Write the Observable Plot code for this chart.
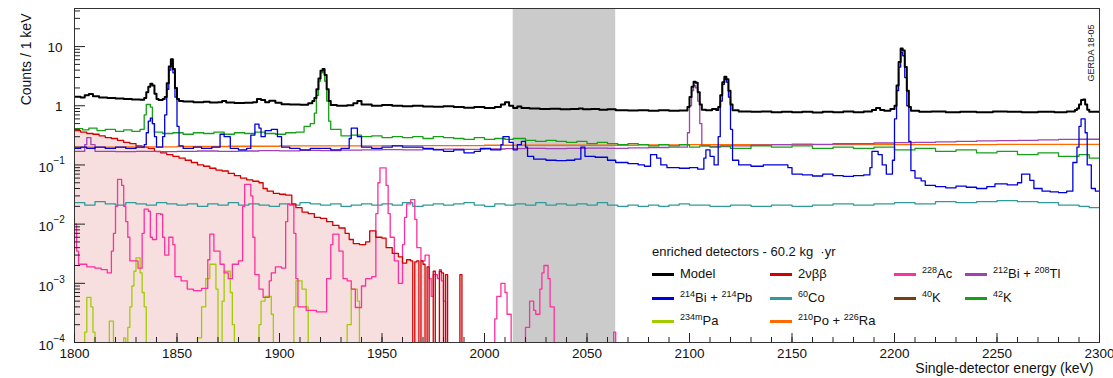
<!DOCTYPE html>
<html>
<head>
<meta charset="utf-8">
<script src="https://cdn.jsdelivr.net/npm/d3@7"></script>
<script src="https://cdn.jsdelivr.net/npm/@observablehq/plot@0.6"></script>
<style>
  body { margin: 0; background: #fff; font-family: "Liberation Sans", Arial, sans-serif; }
  #wrap { position: relative; width: 1113px; height: 378px; overflow: hidden; }
  #legend { position: absolute; left: 0; top: 0; font-size: 13px; color: #111; }
  #legend .title { position: absolute; white-space: nowrap; line-height: 14px; }
  #legend .item { position: absolute; white-space: nowrap; display: flex; align-items: center; line-height: 14px; }
  #legend .swatch { display: inline-block; width: 22px; height: 3px; margin-right: 6px; }
  #legend sup { font-size: 9px; vertical-align: 5px; line-height: 0; }
</style>
</head>
<body>
<div id="wrap"></div>
<script>
// Single-detector energy spectrum, 1800-2300 keV, with background model components.
// Each series: [bin low edge (keV), counts / keV] drawn as a step histogram.

const energyRange = [1800, 2300];
const countsRange = [1e-4, 44];
const blindWindow = [2014, 2064];

const model = [[1800,1.42],[1803,1.38],[1805,1.5],[1807,1.58],[1809,1.45],[1812,1.38],[1816,1.35],[1820,1.33],[1824,1.3],[1828,1.27],[1832,1.26],[1834,1.35],[1835,1.7],[1836,2.1],[1837,2.35],[1838,2.2],[1839,1.6],[1840,1.3],[1841,1.25],[1843,1.3],[1844,1.4],[1845,2.4],[1846,4.6],[1847,6.1],[1848,4.2],[1849,2.0],[1850,1.3],[1851,1.2],[1853,1.18],[1858,1.15],[1863,1.17],[1866,1.13],[1870,1.15],[1872,1.2],[1874,1.13],[1878,1.11],[1883,1.12],[1887,1.15],[1889,1.3],[1891,1.25],[1893,1.15],[1895,1.22],[1898,1.12],[1901,1.06],[1905,1.05],[1910,1.04],[1914,1.1],[1916,1.2],[1917,1.35],[1918,1.9],[1919,2.9],[1920,3.9],[1921,4.2],[1922,3.3],[1923,1.9],[1924,1.2],[1925,1.03],[1928,1.0],[1933,1.02],[1936,1.1],[1938,1.2],[1940,1.05],[1945,1.0],[1950,1.03],[1955,1.0],[1960,0.98],[1965,1.0],[1970,0.97],[1975,0.96],[1980,0.98],[1985,0.95],[1990,0.93],[1995,0.95],[2000,0.92],[2005,0.95],[2008,1.05],[2010,1.15],[2012,1.0],[2014,0.92],[2016,0.97],[2018,0.92],[2022,0.9],[2027,0.88],[2032,0.89],[2037,0.87],[2042,0.88],[2046,0.9],[2048,0.87],[2052,0.88],[2056,0.86],[2060,0.87],[2064,0.84],[2070,0.83],[2075,0.84],[2080,0.82],[2085,0.84],[2090,0.82],[2095,0.83],[2099,0.95],[2100,1.4],[2101,2.1],[2102,2.55],[2103,2.45],[2104,1.7],[2105,1.05],[2106,0.86],[2108,0.84],[2111,0.88],[2113,0.85],[2114,0.95],[2115,1.5],[2116,2.5],[2117,3.1],[2118,2.8],[2119,1.8],[2120,1.05],[2121,0.84],[2124,0.8],[2130,0.79],[2135,0.8],[2140,0.78],[2145,0.79],[2150,0.78],[2155,0.79],[2160,0.77],[2165,0.79],[2170,0.78],[2175,0.8],[2180,0.78],[2185,0.8],[2189,0.85],[2191,0.92],[2193,0.85],[2195,0.82],[2198,0.88],[2200,1.0],[2201,2.2],[2202,5.5],[2203,9.3],[2204,8.6],[2205,4.5],[2206,1.8],[2207,0.95],[2208,0.82],[2212,0.79],[2218,0.8],[2225,0.78],[2232,0.79],[2240,0.78],[2248,0.8],[2255,0.79],[2262,0.78],[2270,0.79],[2278,0.78],[2284,0.8],[2288,0.85],[2289,0.9],[2290,1.05],[2291,1.25],[2292,1.28],[2293,1.05],[2294,0.86],[2295,0.79],[2300,0.78]];

const bi214 = [[1800,0.19],[1803,0.2],[1806,0.19],[1810,0.2],[1815,0.19],[1820,0.2],[1825,0.19],[1830,0.2],[1834,0.22],[1835,0.35],[1836,0.55],[1837,0.62],[1838,0.5],[1839,0.3],[1840,0.2],[1843,0.3],[1844,0.7],[1845,1.9],[1846,4.0],[1847,5.2],[1848,3.6],[1849,1.4],[1850,0.45],[1851,0.21],[1853,0.19],[1858,0.2],[1862,0.19],[1867,0.2],[1871,0.33],[1873,0.3],[1876,0.19],[1880,0.18],[1884,0.19],[1886,0.32],[1888,0.49],[1890,0.42],[1891,0.3],[1893,0.38],[1896,0.4],[1899,0.3],[1901,0.2],[1905,0.19],[1910,0.18],[1915,0.19],[1920,0.19],[1925,0.18],[1930,0.19],[1934,0.28],[1935,0.42],[1938,0.3],[1940,0.2],[1945,0.19],[1950,0.2],[1955,0.21],[1960,0.2],[1965,0.2],[1970,0.19],[1975,0.18],[1980,0.17],[1985,0.18],[1990,0.16],[1995,0.17],[1998,0.19],[2003,0.18],[2008,0.22],[2009,0.3],[2012,0.24],[2014,0.18],[2016,0.22],[2018,0.25],[2020,0.2],[2021,0.14],[2024,0.125],[2030,0.12],[2035,0.118],[2040,0.12],[2044,0.125],[2047,0.2],[2049,0.14],[2054,0.135],[2060,0.12],[2064,0.11],[2070,0.105],[2075,0.1],[2078,0.095],[2081,0.15],[2084,0.13],[2086,0.1],[2089,0.09],[2095,0.088],[2100,0.09],[2104,0.085],[2107,0.13],[2108,0.18],[2110,0.14],[2112,0.1],[2114,0.3],[2115,1.2],[2116,2.3],[2117,2.8],[2118,2.5],[2119,1.4],[2120,0.4],[2121,0.12],[2124,0.1],[2130,0.095],[2136,0.1],[2142,0.1],[2148,0.09],[2150,0.07],[2155,0.068],[2160,0.065],[2165,0.07],[2170,0.066],[2175,0.064],[2180,0.066],[2185,0.068],[2188,0.09],[2189,0.17],[2192,0.15],[2194,0.1],[2196,0.07],[2199,0.12],[2200,0.6],[2201,1.8],[2202,4.5],[2203,8.0],[2204,7.0],[2205,3.0],[2206,1.0],[2207,0.25],[2208,0.08],[2210,0.06],[2213,0.054],[2215,0.045],[2220,0.043],[2225,0.041],[2230,0.044],[2235,0.042],[2240,0.04],[2245,0.043],[2249,0.048],[2255,0.046],[2260,0.05],[2262,0.07],[2266,0.055],[2268,0.04],[2272,0.036],[2276,0.035],[2280,0.034],[2284,0.036],[2287,0.11],[2289,0.2],[2290,0.45],[2291,0.6],[2293,0.35],[2294,0.1],[2296,0.04],[2298,0.036],[2300,0.036]];

const k42 = [[1800,0.41],[1804,0.39],[1807,0.42],[1811,0.38],[1815,0.4],[1820,0.37],[1824,0.39],[1828,0.37],[1832,0.4],[1834,0.7],[1835,1.05],[1837,0.95],[1838,0.5],[1839,0.36],[1843,0.34],[1848,0.35],[1853,0.33],[1858,0.35],[1863,0.34],[1868,0.36],[1873,0.33],[1878,0.35],[1883,0.34],[1888,0.36],[1893,0.34],[1898,0.33],[1903,0.35],[1908,0.36],[1912,0.45],[1915,0.5],[1917,0.75],[1918,1.5],[1919,2.6],[1920,3.6],[1921,3.7],[1922,2.6],[1923,1.2],[1924,0.55],[1925,0.4],[1930,0.31],[1935,0.32],[1940,0.3],[1945,0.31],[1950,0.29],[1955,0.3],[1960,0.29],[1965,0.3],[1970,0.28],[1975,0.3],[1980,0.29],[1985,0.28],[1990,0.27],[1995,0.29],[2000,0.27],[2005,0.28],[2010,0.27],[2014,0.28],[2020,0.26],[2025,0.25],[2030,0.26],[2035,0.25],[2040,0.24],[2045,0.25],[2050,0.23],[2055,0.24],[2060,0.23],[2065,0.22],[2070,0.23],[2075,0.22],[2080,0.21],[2085,0.22],[2090,0.21],[2095,0.22],[2100,0.2],[2105,0.21],[2110,0.2],[2115,0.21],[2120,0.19],[2130,0.21],[2140,0.2],[2150,0.21],[2160,0.19],[2170,0.2],[2180,0.19],[2190,0.2],[2200,0.18],[2210,0.19],[2220,0.17],[2230,0.18],[2240,0.16],[2250,0.17],[2260,0.15],[2270,0.16],[2280,0.14],[2290,0.15],[2295,0.13],[2300,0.13]];

const po210 = [[1800,0.2],[1825,0.202],[1850,0.205],[1875,0.207],[1900,0.21],[1925,0.21],[1950,0.212],[1975,0.212],[2000,0.215],[2025,0.215],[2050,0.215],[2075,0.218],[2100,0.22],[2125,0.22],[2150,0.22],[2175,0.22],[2200,0.22],[2225,0.221],[2250,0.222],[2275,0.222],[2300,0.222]];

const bi212 = [[1800,0.17],[1805,0.22],[1806,0.29],[1808,0.22],[1810,0.17],[1820,0.168],[1830,0.17],[1840,0.168],[1850,0.17],[1860,0.172],[1870,0.17],[1880,0.172],[1890,0.175],[1900,0.173],[1910,0.176],[1920,0.175],[1930,0.178],[1940,0.18],[1950,0.182],[1960,0.18],[1970,0.184],[1980,0.185],[1990,0.183],[2000,0.186],[2010,0.188],[2020,0.19],[2030,0.188],[2040,0.19],[2050,0.192],[2060,0.19],[2070,0.195],[2080,0.197],[2090,0.2],[2099,0.35],[2100,1.0],[2101,1.8],[2102,2.2],[2103,2.0],[2104,1.2],[2105,0.5],[2106,0.21],[2110,0.205],[2120,0.21],[2130,0.215],[2140,0.22],[2150,0.225],[2160,0.222],[2170,0.228],[2180,0.23],[2190,0.235],[2200,0.238],[2210,0.24],[2220,0.245],[2230,0.25],[2240,0.255],[2250,0.258],[2260,0.26],[2270,0.265],[2280,0.27],[2290,0.272],[2300,0.275]];

const co60 = [[1800,0.023],[1805,0.021],[1810,0.024],[1815,0.022],[1820,0.021],[1825,0.023],[1830,0.022],[1835,0.021],[1840,0.023],[1845,0.022],[1850,0.021],[1855,0.022],[1860,0.02],[1865,0.022],[1870,0.021],[1875,0.023],[1880,0.021],[1885,0.022],[1890,0.021],[1895,0.02],[1900,0.022],[1905,0.021],[1910,0.023],[1915,0.022],[1920,0.021],[1925,0.022],[1930,0.02],[1935,0.021],[1940,0.022],[1945,0.021],[1950,0.022],[1955,0.021],[1960,0.023],[1965,0.02],[1970,0.021],[1975,0.022],[1980,0.021],[1985,0.022],[1990,0.023],[1995,0.021],[2000,0.02],[2005,0.022],[2010,0.021],[2015,0.022],[2020,0.021],[2025,0.023],[2030,0.021],[2035,0.022],[2040,0.021],[2045,0.022],[2050,0.021],[2055,0.023],[2060,0.021],[2065,0.02],[2070,0.021],[2075,0.02],[2080,0.021],[2085,0.02],[2090,0.021],[2095,0.022],[2100,0.021],[2110,0.02],[2120,0.021],[2130,0.02],[2140,0.021],[2150,0.02],[2160,0.021],[2170,0.022],[2180,0.021],[2190,0.022],[2200,0.023],[2210,0.022],[2220,0.024],[2230,0.023],[2240,0.024],[2250,0.025],[2260,0.024],[2270,0.023],[2280,0.021],[2290,0.02],[2295,0.019],[2300,0.019]];

const nu2bb = [[1800,0.38],[1803,0.36],[1806,0.34],[1809,0.33],[1812,0.31],[1815,0.29],[1818,0.28],[1821,0.26],[1824,0.24],[1827,0.23],[1830,0.21],[1833,0.2],[1836,0.19],[1839,0.17],[1842,0.16],[1845,0.15],[1848,0.14],[1851,0.13],[1854,0.12],[1857,0.11],[1860,0.1],[1863,0.095],[1866,0.088],[1869,0.082],[1872,0.079],[1875,0.072],[1878,0.066],[1881,0.06],[1884,0.056],[1887,0.053],[1890,0.05],[1892,0.04],[1894,0.036],[1897,0.033],[1900,0.032],[1903,0.031],[1906,0.022],[1908,0.019],[1911,0.016],[1914,0.015],[1917,0.013],[1920,0.0125],[1923,0.011],[1926,0.0095],[1929,0.0086],[1932,0.007],[1934,0.0055],[1936,0.0047],[1939,0.0045],[1942,0.005],[1944,0.0077],[1947,0.006],[1950,0.0058],[1952,0.004],[1955,0.0032],[1958,0.0028],[1960,0.0022],[1962,0.0025],[1964,0.0024],[1965,0],[1966,0.0023],[1967,0.0024],[1968,0],[1969,0.0024],[1970,0.0021],[1971,0],[1972,0.0019],[1973,0],[1975,0.0016],[1976,0],[1978,0.0016],[1979,0.0015],[1980,0],[1981,0.0014],[1982,0],[1988,0.0014],[1989,0],[2300,0]];

const ac228 = [[1800,0.01],[1801,0.0035],[1802,0.0021],[1806,0.0019],[1810,0.0018],[1813,0.0017],[1816,0.0015],[1818,0.0035],[1819,0.007],[1820,0.02],[1821,0.057],[1823,0.045],[1824,0.02],[1825,0.011],[1826,0.006],[1827,0.0024],[1831,0.0018],[1833,0.007],[1834,0.018],[1836,0.0165],[1837,0.006],[1838,0.0055],[1840,0.015],[1842,0.0147],[1843,0.006],[1844,0.003],[1846,0.006],[1848,0.0045],[1849,0.0013],[1852,0.0011],[1855,0.0008],[1858,0.00075],[1862,0.00082],[1865,0.0025],[1866,0.0068],[1868,0.0035],[1871,0.0021],[1873,0.0015],[1875,0.0012],[1877,0.0021],[1880,0.0024],[1882,0.02],[1883,0.047],[1886,0.03],[1887,0.006],[1888,0.0014],[1890,0.0008],[1892,0.00058],[1895,0.0011],[1896,0.0015],[1898,0.0019],[1901,0.0018],[1903,0.011],[1904,0.0216],[1907,0.007],[1908,0.0012],[1909,0.0004],[1913,0.00035],[1918,0.00033],[1923,0.0012],[1925,0.0045],[1926,0.0068],[1929,0.0035],[1931,0.0012],[1933,0.0011],[1935,0.0008],[1937,0.00039],[1940,0.0009],[1942,0.0012],[1945,0.0013],[1947,0.015],[1948,0.05],[1949,0.089],[1952,0.045],[1953,0.015],[1954,0.006],[1956,0.0024],[1958,0.001],[1960,0.0045],[1961,0.013],[1962,0.022],[1964,0.026],[1966,0.012],[1967,0.004],[1969,0.0024],[1971,0.003],[1973,0.0012],[1974,0.0006],[1975,0.0014],[1977,0.0012],[1978,0.0017],[1979,0.0011],[1980,0.0005],[1981,0],[2005,0.00025],[2006,0.0006],[2008,0.001],[2010,0.0007],[2011,0.0003],[2013,0],[2020,0.00018],[2022,0.0005],[2024,0.00035],[2025,0.0003],[2027,0.0008],[2028,0.0015],[2029,0.002],[2031,0.0012],[2032,0.0004],[2034,0],[2063,0.00015],[2064,0],[2300,0]];

const pa234m = [[1800,0],[1805,0.00015],[1806,0.00058],[1808,0.0004],[1809,0.00015],[1810,0],[1817,0.00023],[1819,0],[1824,0.00012],[1825,0],[1826,0.00018],[1827,0.0004],[1828,0.0009],[1829,0.0016],[1830,0.0027],[1832,0.0015],[1833,0.0007],[1834,0.0004],[1835,0],[1860,0.00012],[1862,0.0004],[1864,0.0012],[1866,0.0021],[1869,0.0008],[1870,0],[1872,0.0005],[1873,0.0016],[1876,0.0007],[1877,0.0002],[1878,0],[1890,0.0002],[1891,0.0005],[1893,0.0006],[1896,0.0003],[1897,0],[1907,0.0004],[1908,0.0011],[1911,0.0008],[1913,0.0004],[1914,0],[1933,0.0002],[1935,0.0008],[1938,0.0005],[1939,0],[2300,0]];

// Axis ticks
const yMajor = [1e-4, 1e-3, 1e-2, 1e-1, 1, 10];
const yBase = ["10", "10", "10", "10", "1", "10"];
const yExp = ["\u22124", "\u22123", "\u22122", "\u22121", "", ""];
const xMajor = d3.range(1800, 2301, 50);
const xMinor = d3.range(1800, 2301, 10);
const yMinor = [];
for (let p = -4; p <= 1; p++) for (let m = 2; m <= 9; m++) if (m * 10 ** p <= countsRange[1]) yMinor.push(m * 10 ** p);

// Legend
const legendTitle = "enriched detectors - 60.2 kg \u00a0\u00b7yr";
const legendNames = [
  "Model", "2\u03bd\u03b2\u03b2", "<sup>228</sup>Ac", "<sup>212</sup>Bi + <sup>208</sup>Tl",
  "<sup>214</sup>Bi + <sup>214</sup>Pb", "<sup>60</sup>Co", "<sup>40</sup>K", "<sup>42</sup>K",
  "<sup>234m</sup>Pa", "<sup>210</sup>Po + <sup>226</sup>Ra"
];
const legendKeys = ["model", "nu2bb", "ac228", "bi212", "bi214", "co60", "k40", "k42", "pa234m", "po210"];

const colors = {
  model: "#000000", nu2bb: "#d40000", ac228: "#ff2f9e", bi212: "#a043b0",
  bi214: "#0000d8", co60: "#2f9a9a", k40: "#7a3e0e", k42: "#16a016",
  pa234m: "#a2cc00", po210: "#ff6a00"
};

const FLOOR = 1e-7; // empty bins fall below the frame and are clipped
const rows = s => s.map(([e, v]) => ({e, v: v > 0 ? v : FLOOR}));

const W = 1113, H = 378, mt = 8, mr = 14, mb = 36, ml = 74;
const frameW = W - ml - mr, frameH = H - mt - mb;

const hist = (s, stroke, strokeWidth = 1.3) =>
  Plot.line(rows(s), {x: "e", y: "v", curve: "step-after", stroke, strokeWidth, clip: true});

const yTicks = yMajor.map((v, i) => ({v, base: yBase[i], exp: yExp[i]}));
const yPow = yTicks.filter(d => d.exp !== "");
const yPlain = yTicks.filter(d => d.exp === "");

const chart = Plot.plot({
  width: W, height: H,
  marginTop: mt, marginRight: mr, marginBottom: mb, marginLeft: ml,
  style: {fontFamily: "'Liberation Sans', Arial, sans-serif", background: "#fff", overflow: "visible"},
  x: {domain: energyRange, axis: null},
  y: {type: "log", domain: countsRange, axis: null},
  marks: [
    // 2vbb filled region
    Plot.areaY(rows(nu2bb), {x: "e", y1: () => FLOOR, y2: "v", curve: "step-after", fill: "#f7dfdf", clip: true}),
    // blinded window
    Plot.rect([blindWindow], {x1: d => d[0], x2: d => d[1], fill: "#cbcbcb"}),
    hist(co60, colors.co60),
    hist(pa234m, colors.pa234m),
    hist(ac228, colors.ac228),
    hist(nu2bb, colors.nu2bb),
    hist(po210, colors.po210),
    hist(bi212, colors.bi212),
    hist(k42, colors.k42),
    hist(bi214, colors.bi214),
    hist(model, colors.model, 2),
    Plot.frame({stroke: "#333", strokeWidth: 1}),
    // inward ticks
    Plot.tickY(yMajor, {y: d => d, insetRight: frameW - 11, stroke: "#222"}),
    Plot.tickY(yMinor, {y: d => d, insetRight: frameW - 6, stroke: "#222"}),
    Plot.tickX(xMajor, {x: d => d, insetTop: frameH - 9, stroke: "#222"}),
    Plot.tickX(xMinor, {x: d => d, insetTop: frameH - 5, stroke: "#222"}),
    // tick labels
    Plot.text(yPlain, {y: "v", text: "base", frameAnchor: "left", textAnchor: "end", dx: -12, dy: 1, fontSize: 13.5, fill: "#111"}),
    Plot.text(yPow, {y: "v", text: "base", frameAnchor: "left", textAnchor: "end", dx: -21, dy: 3, fontSize: 13.5, fill: "#111"}),
    Plot.text(yPow, {y: "v", text: "exp", frameAnchor: "left", textAnchor: "start", dx: -21, dy: -4, fontSize: 10, fill: "#111"}),
    Plot.text(xMajor, {x: d => d, text: d => String(d), frameAnchor: "bottom", dy: 15, fontSize: 13.5, fill: "#111"}),
    // axis titles
    Plot.text(["Counts / 1 keV"], {frameAnchor: "top-left", rotate: -90, textAnchor: "end", dx: -53, dy: 5, fontSize: 14, fill: "#111"}),
    Plot.text(["Single-detector energy (keV)"], {frameAnchor: "bottom-right", textAnchor: "end", dx: -6, dy: 30, fontSize: 14, fill: "#111"}),
    Plot.text(["GERDA 18-05"], {frameAnchor: "top-right", rotate: -90, textAnchor: "end", dx: -12, dy: 16, fontSize: 9, fill: "#111"})
  ]
});

const wrap = document.getElementById("wrap");
wrap.appendChild(chart);

// legend block inside the frame, lower right
const legend = document.createElement("div");
legend.id = "legend";
const colX = [652, 770, 894, 965];
const rowY = [267, 291, 314];
let html = `<div class="title" style="left:652px;top:245px">${legendTitle}</div>`;
legendKeys.forEach((k, i) => {
  const c = i % 4, r = Math.floor(i / 4);
  html += `<div class="item" style="left:${colX[c]}px;top:${rowY[r]}px"><span class="swatch" style="background:${colors[k]}"></span><span>${legendNames[i]}</span></div>`;
});
legend.innerHTML = html;
wrap.appendChild(legend);
</script>
</body>
</html>
